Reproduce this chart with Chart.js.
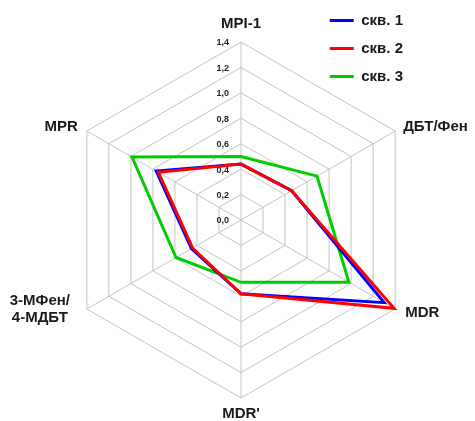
<!DOCTYPE html>
<html>
<head>
<meta charset="utf-8">
<script src="https://cdn.jsdelivr.net/npm/chart.js@4/dist/chart.umd.min.js"></script>
<style>
  body { margin: 0; background: #fff; }
  #wrap { width: 475px; height: 421px; position: relative; }
</style>
</head>
<body>
<div id="wrap"><canvas id="radar"></canvas></div>
<script>
// Radar: biomarker ratios for three wells

const axisLabels = ['MPI-1', 'ДБТ/Фен', 'MDR', "MDR'", ['3-МФен/', '4-МДБТ'], 'MPR'];
const seriesNames = ['скв. 1', 'скв. 2', 'скв. 3'];
const well1 = [0.44, 0.46, 1.30, 0.58, 0.45, 0.77];
const well2 = [0.44, 0.46, 1.39, 0.58, 0.44, 0.75];
const well3 = [0.50, 0.69, 0.98, 0.49, 0.59, 0.99];
const scaleMin = 0;
const scaleMax = 1.4;
const scaleStep = 0.2;

const FONT = '"Liberation Sans", Arial, sans-serif';

// where each axis title sits relative to its outer vertex
const titleOffsets = [
    { dx: 0, dy: -18, align: 'center' },
    { dx: 8, dy: -4, align: 'left' },
    { dx: 10, dy: 4, align: 'left' },
    { dx: 0, dy: 16, align: 'center' },
    { dx: -47, dy: 0, align: 'center' },
    { dx: -9, dy: -4, align: 'right' }
];

// Tick labels (left of the vertical axis) and axis titles
const labelsPlugin = {
    id: 'radarLabels',
    beforeDatasetsDraw(chart) {
        const scale = chart.scales.r;
        const ctx = chart.ctx;
        ctx.save();

        // ticks
        ctx.font = 'bold 9px ' + FONT;
        ctx.fillStyle = '#262626';
        ctx.textAlign = 'right';
        ctx.textBaseline = 'middle';
        scale.ticks.forEach(t => {
            const d = scale.getDistanceFromCenterForValue(t.value);
            ctx.fillText(t.value.toFixed(1).replace('.', ','), scale.xCenter - 12, scale.yCenter - d + 1);
        });

        // axis titles
        ctx.font = 'bold 15px ' + FONT;
        ctx.fillStyle = '#1a1a1a';
        axisLabels.forEach((lbl, i) => {
            const p = scale.getPointPosition(i, scale.drawingArea);
            const o = titleOffsets[i];
            ctx.textAlign = o.align;
            const lines = Array.isArray(lbl) ? lbl : [lbl];
            const lh = 17;
            const y0 = p.y + o.dy - (lines.length - 1) * lh / 2;
            lines.forEach((line, k) => {
                ctx.fillText(line, p.x + o.dx, y0 + k * lh);
            });
        });
        ctx.restore();
    }
};

new Chart(document.getElementById('radar'), {
    type: 'radar',
    data: {
        labels: axisLabels,
        datasets: [
            { label: seriesNames[0], data: well1, borderColor: '#0000ff', backgroundColor: '#0000ff', borderWidth: 3, order: 1 },
            { label: seriesNames[1], data: well2, borderColor: '#ff0000', backgroundColor: '#ff0000', borderWidth: 3, order: 0 },
            { label: seriesNames[2], data: well3, borderColor: '#00cc00', backgroundColor: '#00cc00', borderWidth: 3, order: 2 }
        ]
    },
    options: {
        responsive: true,
        maintainAspectRatio: false,
        animation: false,
        events: [],
        elements: {
            line: { fill: false, tension: 0 },
            point: { radius: 0, hoverRadius: 0 }
        },
        layout: { padding: { top: 0, right: 62, left: 0, bottom: 0 } },
        plugins: {
            tooltip: { enabled: false },
            legend: {
                position: 'right',
                align: 'start',
                labels: {
                    usePointStyle: true,
                    pointStyle: 'line',
                    pointStyleWidth: 24,
                    padding: 13,
                    color: '#1a1a1a',
                    font: { family: FONT, size: 15, weight: 'bold' },
                    sort: (a, b) => a.datasetIndex - b.datasetIndex
                }
            }
        },
        scales: {
            r: {
                min: scaleMin,
                max: scaleMax,
                ticks: { stepSize: scaleStep, display: false },
                grid: { color: '#c4c4c4', lineWidth: 1 },
                angleLines: { color: '#c4c4c4', lineWidth: 1 },
                pointLabels: { display: false },
                afterFit: (scale) => {
                    scale.xCenter = 241;
                    scale.yCenter = 220;
                    scale.drawingArea = 178;
                }
            }
        }
    },
    plugins: [labelsPlugin]
});
</script>
</body>
</html>
